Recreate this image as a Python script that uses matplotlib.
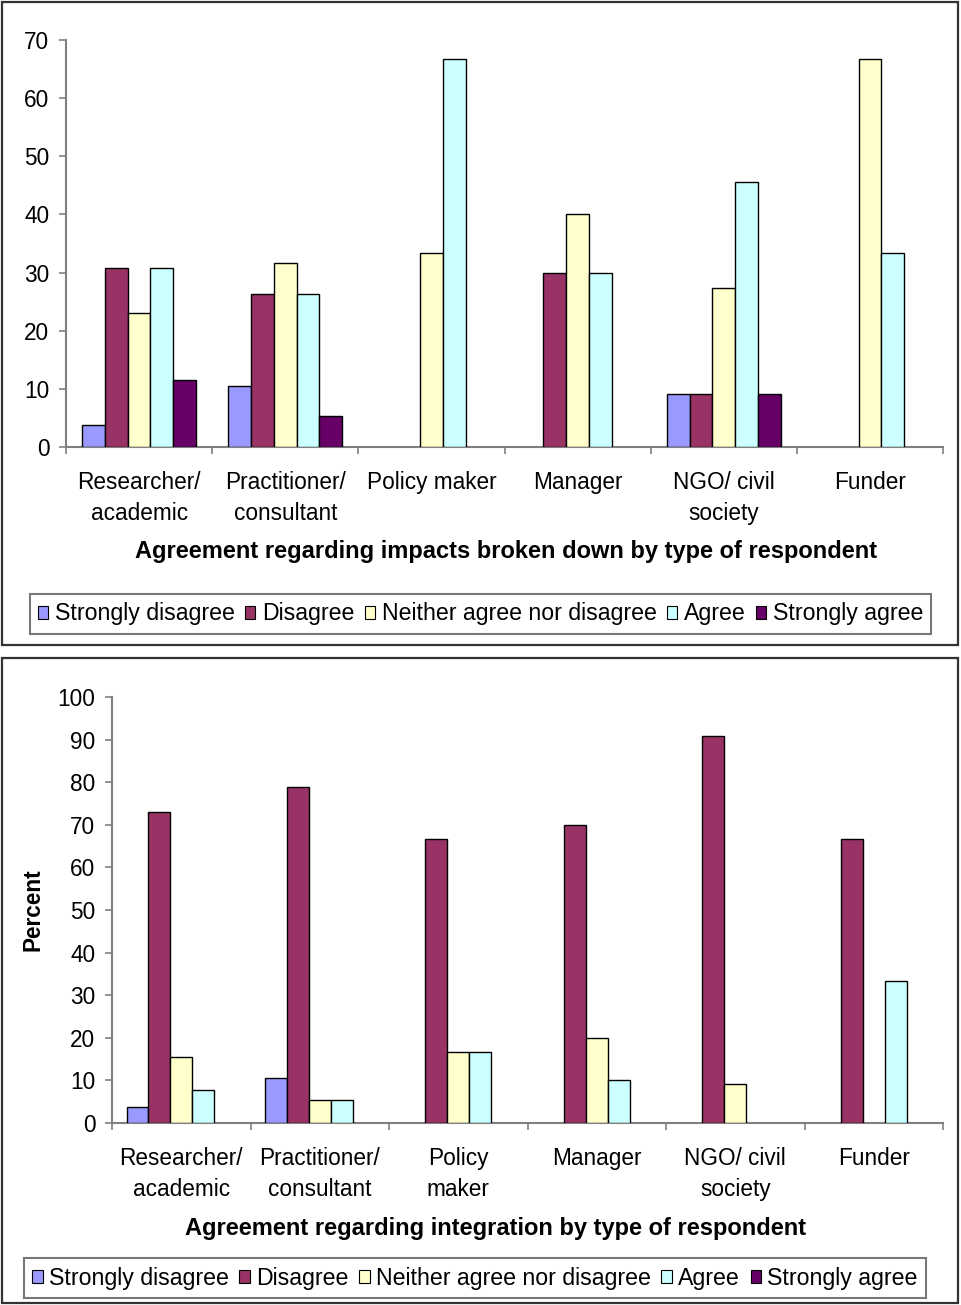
import numpy as np
import matplotlib
matplotlib.use("Agg")
import matplotlib.pyplot as plt
from matplotlib.patches import Patch, Rectangle

plt.rcParams['font.family'] = ['Liberation Sans', 'DejaVu Sans']

# Response categories and colours
responses = ["Strongly disagree", "Disagree", "Neither agree nor disagree",
             "Agree", "Strongly agree"]
colors = ["#9999FF", "#993366", "#FFFFCC", "#CCFFFF", "#660066"]

# Respondent types
groups_top = ["Researcher/\nacademic", "Practitioner/\nconsultant", "Policy maker",
              "Manager", "NGO/ civil\nsociety", "Funder"]
groups_bottom = ["Researcher/\nacademic", "Practitioner/\nconsultant", "Policy\nmaker",
                 "Manager", "NGO/ civil\nsociety", "Funder"]

# Impacts (percent), one list per response, ordered by respondent type
impacts_strongly_disagree = [3.8, 10.5, 0, 0, 9.1, 0]
impacts_disagree = [30.8, 26.3, 0, 30.0, 9.1, 0]
impacts_neither = [23.1, 31.6, 33.3, 40.0, 27.3, 66.7]
impacts_agree = [30.8, 26.3, 66.7, 30.0, 45.5, 33.3]
impacts_strongly_agree = [11.5, 5.3, 0, 0, 9.1, 0]

# Integration (percent)
integ_strongly_disagree = [3.8, 10.5, 0, 0, 0, 0]
integ_disagree = [73.1, 78.9, 66.7, 70.0, 90.9, 66.7]
integ_neither = [15.4, 5.3, 16.7, 20.0, 9.1, 0]
integ_agree = [7.7, 5.3, 16.7, 10.0, 0, 33.3]
integ_strongly_agree = [0, 0, 0, 0, 0, 0]

impacts = [impacts_strongly_disagree, impacts_disagree, impacts_neither,
           impacts_agree, impacts_strongly_agree]
integration = [integ_strongly_disagree, integ_disagree, integ_neither,
               integ_agree, integ_strongly_agree]

W, H = 961, 1305
fig = plt.figure(figsize=(W / 100, H / 100), dpi=100)

AXIS_GREY = "#808080"
FS = 16.3
FS_TITLE = 17
FS_LEG = 16.7


def fx(px):
    return px / W


def fy(py):
    return 1 - py / H


def draw_panel(ax, series, labels, ymax, ystep, width):
    n = len(series)
    x = np.arange(len(labels))
    for i, (vals, col) in enumerate(zip(series, colors)):
        vals = np.asarray(vals, dtype=float)
        mask = vals > 0
        ax.bar(x[mask] + (i - (n - 1) / 2) * width, vals[mask], width=width,
               color=col, edgecolor="black", linewidth=1.0, zorder=3)
    ax.set_xlim(-0.5, len(labels) - 0.5)
    ax.set_ylim(0, ymax)
    ax.set_yticks(np.arange(0, ymax + 1, ystep))
    ax.set_xticks(np.arange(-0.5, len(labels), 1.0))
    ax.set_xticklabels([])
    ax.set_xticks(x, minor=True)
    ax.set_xticklabels(labels, minor=True, fontsize=FS, linespacing=1.47)
    ax.tick_params(axis="x", which="minor", length=0, pad=17)
    ax.tick_params(axis="x", which="major", length=5, width=1.2,
                   color=AXIS_GREY, direction="out")
    ax.tick_params(axis="y", length=5, width=1.2, color=AXIS_GREY,
                   direction="out", labelsize=FS, pad=7)
    for side in ("top", "right"):
        ax.spines[side].set_visible(False)
    for side in ("left", "bottom"):
        ax.spines[side].set_color(AXIS_GREY)
        ax.spines[side].set_linewidth(1.5)
    ax.set_facecolor("white")


# Top panel: impacts
ax1 = fig.add_axes([fx(66), fy(447), fx(943 - 66), (447 - 40) / H])
draw_panel(ax1, impacts, groups_top, 70, 10, 0.156)
fig.text(fx(506), fy(551), "Agreement regarding impacts broken down by type of respondent",
         ha="center", va="center", fontsize=FS_TITLE, fontweight="bold")

# Bottom panel: integration
ax2 = fig.add_axes([fx(112), fy(1123), fx(943 - 112), (1123 - 697) / H])
draw_panel(ax2, integration, groups_bottom, 100, 10, 0.158)
fig.text(fx(496), fy(1229), "Agreement regarding integration by type of respondent",
         ha="center", va="center", fontsize=FS_TITLE, fontweight="bold")
fig.text(fx(33), fy(910), "Percent", rotation=90, ha="center", va="center",
         fontsize=FS, fontweight="bold")

# Legends
handles = [Patch(facecolor=c, edgecolor="black", linewidth=0.8) for c in colors]
for cx, cy in ((480.5, 614), (475, 1278)):
    leg = fig.legend(handles, responses, loc="center",
                     bbox_to_anchor=(fx(cx), fy(cy)), ncol=5, fontsize=FS_LEG,
                     handlelength=0.45, handleheight=0.5, handletextpad=0.28,
                     columnspacing=0.45, borderpad=0.35, fancybox=False,
                     frameon=True, borderaxespad=0)
    leg.get_frame().set_edgecolor("#555555")
    leg.get_frame().set_linewidth(1.5)

# Panel frames
for y0, y1 in ((2, 645), (658, 1303)):
    fig.add_artist(Rectangle((fx(2), fy(y1)), fx(958 - 2), (y1 - y0) / H,
                             transform=fig.transFigure, fill=False,
                             edgecolor="#333333", linewidth=1.6))

fig.savefig("out.png", dpi=100, facecolor="white")
